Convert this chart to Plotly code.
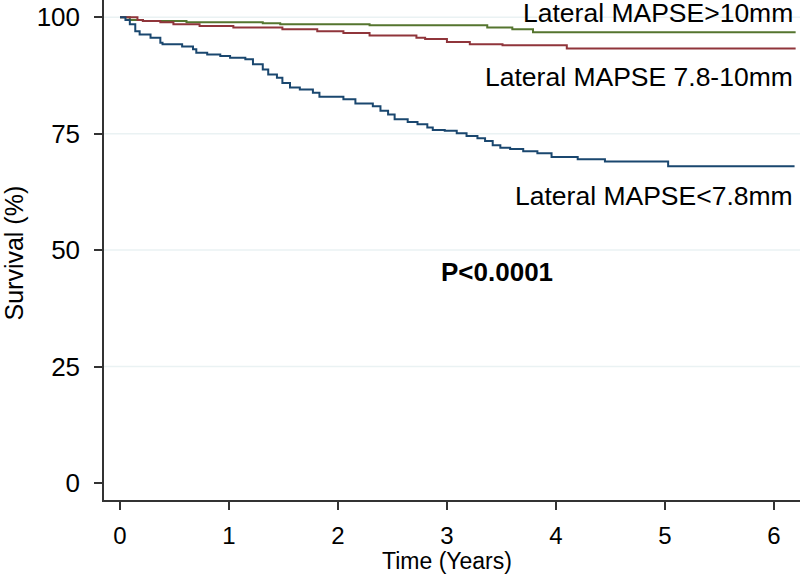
import plotly.graph_objects as go

# ---- data (Kaplan-Meier step curves) ----
gt10_time = [0, 0.09, 0.21, 0.61, 1.31, 1.47, 2.29, 3.37, 3.60, 3.79, 6.20]
gt10_surv = [100, 99.4, 99.2, 98.9, 98.7, 98.5, 98.3, 97.8, 97.4, 96.8, 96.8]

mid_time = [0, 0.16, 0.21, 0.37, 0.49, 0.73, 1.04, 1.49, 1.81, 2.05, 2.29,
            2.72, 2.80, 3.00, 3.21, 3.51, 4.10, 6.20]
mid_surv = [100, 99.4, 99.2, 98.9, 98.5, 98.1, 97.8, 97.4, 97.0, 96.6, 96.1,
            95.6, 95.3, 94.7, 94.2, 94.0, 93.3, 93.3]

lt78_time = [0, 0.05, 0.09, 0.14, 0.18, 0.28, 0.37, 0.39, 0.57, 0.67, 0.70,
             0.80, 0.92, 1.01, 1.15, 1.22, 1.31, 1.36, 1.44, 1.49, 1.56, 1.65,
             1.77, 1.83, 2.05, 2.16, 2.32, 2.39, 2.46, 2.52, 2.64, 2.73, 2.82,
             2.87, 2.98, 3.09, 3.18, 3.28, 3.35, 3.42, 3.49, 3.58, 3.70, 3.83,
             3.96, 4.20, 4.45, 5.03, 6.19]
lt78_surv = [100, 99.4, 98.5, 97.0, 96.3, 95.6, 94.5, 94.2, 93.7, 93.1, 92.4,
             92.0, 91.7, 91.3, 91.0, 89.9, 88.8, 87.7, 87.0, 85.9, 84.9, 84.5,
             83.8, 82.9, 82.4, 81.5, 80.9, 79.9, 79.1, 78.1, 77.5, 77.0, 76.3,
             75.8, 75.6, 75.1, 74.5, 74.0, 73.4, 72.5, 72.0, 71.7, 71.2, 70.8,
             70.0, 69.5, 69.0, 68.0, 68.0]

series_names = ["Lateral MAPSE>10mm", "Lateral MAPSE 7.8-10mm", "Lateral MAPSE<7.8mm"]
x_ticks = [0, 1, 2, 3, 4, 5, 6]
y_ticks = [0, 25, 50, 75, 100]
grid_values = [25, 50, 75, 100]
p_text = "P<0.0001"
x_title = "Time (Years)"
y_title = "Survival (%)"

FONT = "Liberation Sans, Arial, Helvetica, sans-serif"
colors = ["#55752f", "#90353b", "#1a476f"]

fig = go.Figure()
for t, s, name, c in [(gt10_time, gt10_surv, series_names[0], colors[0]),
                      (mid_time, mid_surv, series_names[1], colors[1]),
                      (lt78_time, lt78_surv, series_names[2], colors[2])]:
    fig.add_trace(go.Scatter(x=t, y=s, mode="lines", line_shape="hv",
                             line=dict(color=c, width=2), name=name,
                             showlegend=False))

for g in grid_values:
    fig.add_shape(type="line", xref="paper", x0=0, x1=1, yref="y", y0=g, y1=g,
                  line=dict(color="#eaf2f3", width=1.5), layer="below")

label_y = [101.0, 87.1, 61.7]
for name, yy in zip(series_names, label_y):
    fig.add_annotation(text=name, xref="x", x=6.19, yref="y", y=yy,
                       xanchor="right", yanchor="middle", showarrow=False,
                       font=dict(family=FONT, size=26.5, color="black"))

fig.add_annotation(text="<b>" + p_text + "</b>", xref="x", x=3.46, yref="y", y=45.3,
                   xanchor="center", yanchor="middle", showarrow=False,
                   font=dict(family=FONT, size=26, color="black"))

# axis titles
fig.add_annotation(text=x_title, xref="paper", x=0.493, yref="paper", y=-0.122,
                   xanchor="center", yanchor="middle", showarrow=False,
                   font=dict(family=FONT, size=23, color="black"))
fig.add_annotation(text=y_title, xref="paper", x=-0.130, yref="paper", y=0.494,
                   xanchor="center", yanchor="middle", showarrow=False, textangle=-90,
                   font=dict(family=FONT, size=25, color="black"))

fig.update_layout(
    width=800, height=577,
    margin=dict(l=104, r=0, t=0, b=77),
    paper_bgcolor="white", plot_bgcolor="white",
    font=dict(family=FONT, size=24, color="black"),
    xaxis=dict(range=[-0.147, 6.24], tickvals=x_ticks, showgrid=False,
               zeroline=False, showline=True, linecolor="#333333", linewidth=1.5,
               ticks="outside", ticklen=8, tickwidth=1.5, tickcolor="#333333",
               ticklabelstandoff=5,
               automargin=False, tickfont=dict(family=FONT, size=24)),
    yaxis=dict(range=[-3.66, 103.7], tickvals=y_ticks, showgrid=False,
               zeroline=False, showline=True, linecolor="#333333", linewidth=1.5,
               ticks="outside", ticklen=8, tickwidth=1.5, tickcolor="#333333",
               ticklabelstandoff=9,
               automargin=False, tickfont=dict(family=FONT, size=26)),
)

fig.write_html("out.html", config={"displayModeBar": False},
               post_script="document.body.style.margin='0';document.body.style.overflow='hidden';")
